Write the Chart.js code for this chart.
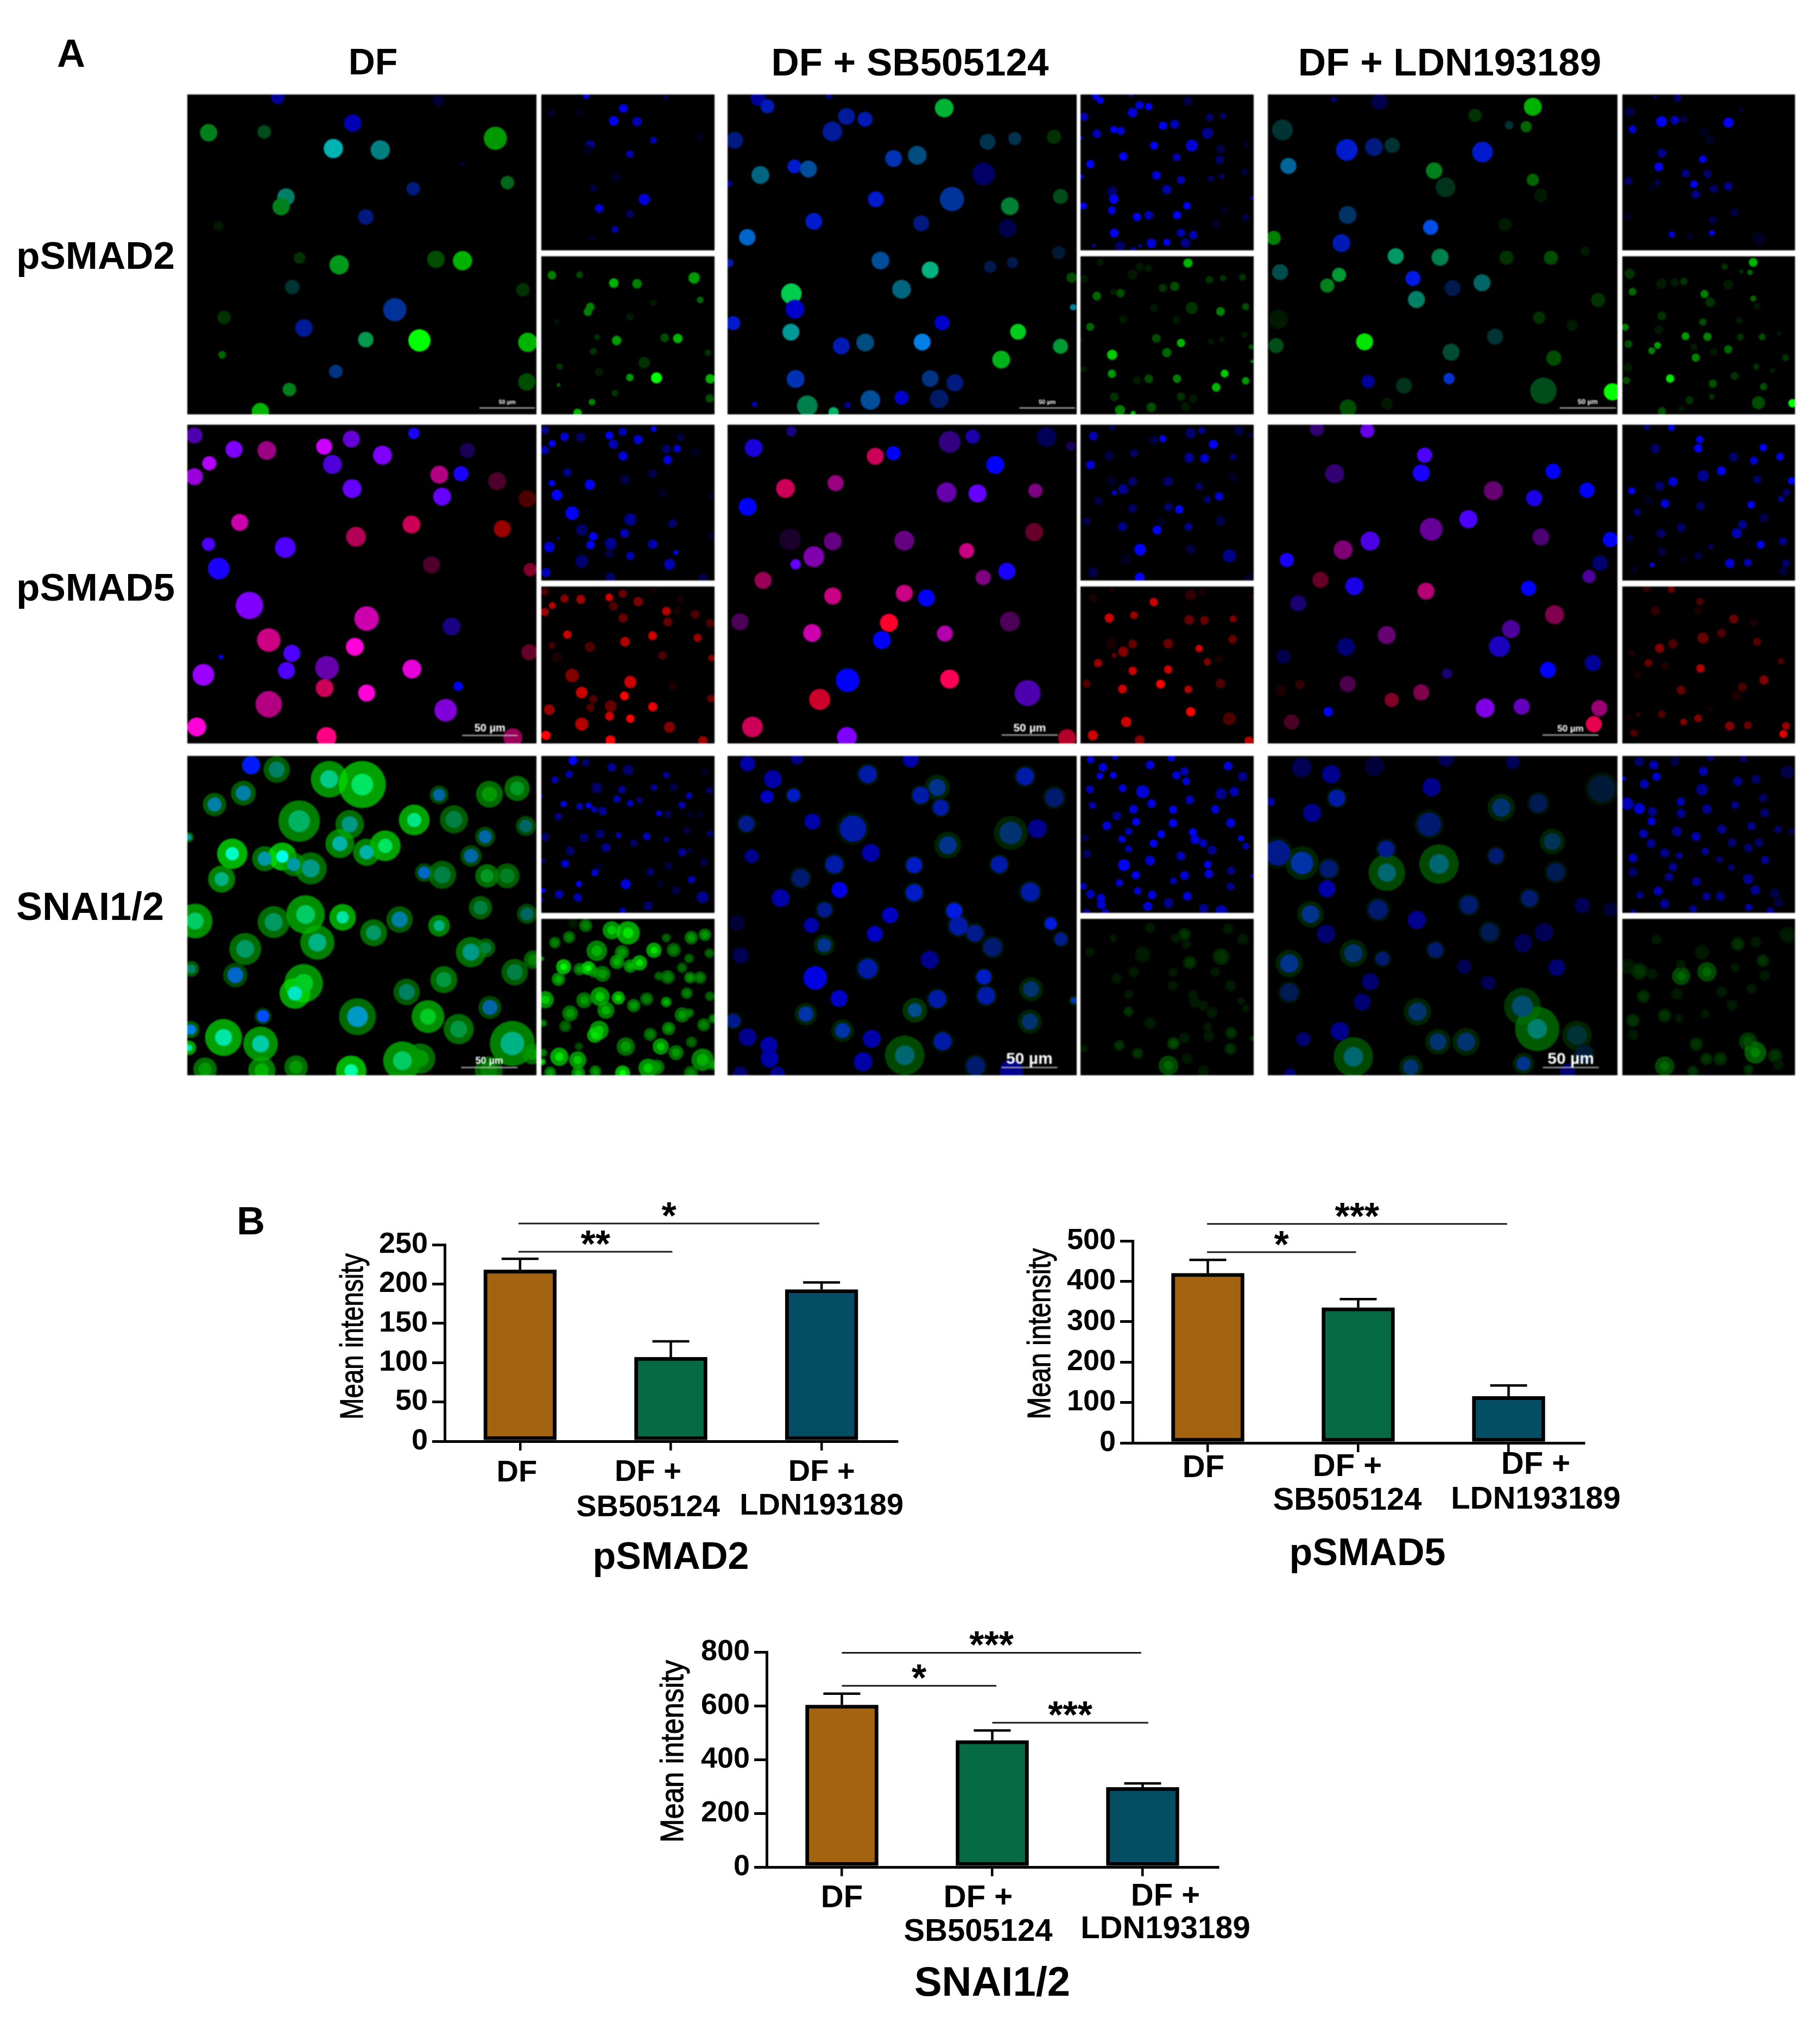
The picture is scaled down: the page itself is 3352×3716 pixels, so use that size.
<!DOCTYPE html>
<html>
<head>
<meta charset="utf-8">
<title>pSMAD2, pSMAD5, SNAI1/2</title>
<script src="https://cdn.jsdelivr.net/npm/chart.js@4"></script>
<style>
  html, body { margin: 0; background: #fff; }
  #page { position: relative; width: 3352px; height: 3716px; overflow: hidden; font-family: "Liberation Sans", Arial, sans-serif; }
  #page canvas { position: absolute; }
  .cells { background: #000; filter: blur(1.2px); }
  .label { position: absolute; font-weight: bold; color: #000; white-space: nowrap; transform: translate(-50%, -50%); line-height: 1; }
</style>
</head>
<body>
<div id="page"></div>
<script>
// ---- panel B values ----
const treatments = ["DF", "DF + SB505124", "DF + LDN193189"];
const treatmentLines = [["DF"], ["DF +", "SB505124"], ["DF +", "LDN193189"]];
const barColors = ["#A4630F", "#066B44", "#044E64"];

const smad2Means = [218, 107, 193];
const smad2Errors = [14, 20, 9];
const smad2Ticks = [0, 50, 100, 150, 200, 250];
const smad2Brackets = [[-0.01, 1.985, 277, "*"], [-0.01, 1.01, 241, "**"]];

const smad5Means = [420, 335, 115];
const smad5Errors = [33, 21, 27];
const smad5Ticks = [0, 100, 200, 300, 400, 500];
const smad5Brackets = [[-0.005, 1.99, 542, "***"], [-0.005, 0.985, 472, "*"]];

const snaiMeans = [603, 471, 297];
const snaiErrors = [42, 37, 14];
const snaiTicks = [0, 200, 400, 600, 800];
const snaiBrackets = [[0, 1.99, 797, "***"], [0, 1.027, 674, "*"], [1, 2.037, 537, "***"]];

const dfSmad2 = [[573,350,14,6,0],[905,362,12,2,0],[430,478,18,1,5],[545,475,14,1,3],[728,443,18,7,0],[688,535,20,7,7],[785,540,20,5,5],[1023,498,24,0,6],[955,590,5,2,0],[1048,658,14,1,4],[853,680,14,5,1],[590,710,18,4,5],[580,745,18,1,5],[755,782,16,5,1],[450,815,10,0,1],[618,930,12,0,2],[700,955,20,1,6],[900,935,18,0,3],[955,940,20,0,7],[603,1035,15,2,2],[1080,1045,14,0,2],[815,1117,24,6,2],[462,1145,14,0,2],[627,1183,18,6,1],[755,1225,16,3,6],[866,1228,23,0,10],[1090,1235,20,0,7],[458,1280,8,0,4],[693,1340,14,5,2],[1088,1378,18,0,3],[597,1405,14,1,5],[537,1485,18,0,7]];
const sbSmad2 = [[148,52,32,6,0],[188,90,30,7,1],[450,40,15,5,0],[525,137,36,6,1],[604,150,32,7,1],[465,207,42,6,1],[942,98,40,2,7],[48,248,36,5,1],[1127,255,34,3,2],[1243,240,28,3,2],[1410,232,30,0,2],[726,333,36,7,2],[827,318,40,5,3],[303,370,30,8,1],[363,382,36,6,3],[158,410,38,5,4],[1110,405,48,4,0],[22,450,14,7,0],[650,523,34,8,1],[975,522,52,6,2],[1222,555,38,2,5],[1438,510,32,1,3],[386,626,36,8,1],[844,635,34,5,1],[1212,658,38,3,0],[102,700,35,8,4],[670,808,38,6,3],[1430,772,28,2,1],[1138,838,26,3,1],[1233,818,24,3,1],[882,852,36,5,7],[25,820,18,7,1],[1485,888,22,0,3],[760,942,40,5,4],[290,963,44,3,8],[305,1035,40,8,0],[1492,1026,14,6,5],[42,1100,30,8,1],[933,1098,32,8,0],[288,1142,36,6,6],[1257,1140,34,1,8],[503,1206,36,7,1],[605,1190,38,5,3],[848,1188,36,9,5],[1438,1208,32,2,6],[1185,1270,38,1,7],[308,1360,38,7,2],[882,1358,36,5,2],[987,1378,36,5,1],[627,1458,42,6,3],[760,1447,30,8,0],[920,1453,40,4,1],[358,1485,44,3,5],[132,1478,12,7,0],[470,1515,22,4,7],[530,1482,14,6,0]];
const ldnSmad2 = [[290,58,12,5,0],[483,68,34,3,0],[1133,92,38,0,7],[888,132,28,0,2],[1033,178,18,2,2],[1105,185,24,0,4],[72,200,44,2,2],[345,293,46,8,1],[460,280,38,5,1],[537,272,32,2,2],[920,303,44,8,1],[97,368,34,6,4],[715,390,35,1,5],[763,467,42,1,2],[1133,432,26,0,4],[1167,505,28,0,1],[348,596,38,4,2],[1015,640,28,0,1],[700,654,32,9,3],[35,703,30,0,5],[322,727,38,7,1],[552,788,34,4,6],[740,793,36,3,5],[1022,795,30,0,2],[1210,795,30,0,3],[1355,765,20,0,1],[62,862,34,3,3],[312,875,30,2,6],[262,925,30,1,5],[625,892,32,9,1],[918,912,36,4,4],[793,937,34,3,1],[640,990,36,4,5],[1410,992,30,0,2],[1160,1075,26,0,2],[55,1082,40,0,1],[1300,1110,24,0,1],[420,1187,36,0,9],[973,1163,34,2,2],[45,1205,32,1,3],[787,1235,36,2,3],[1222,1263,32,0,3],[435,1372,28,6,0],[587,1392,34,1,2],[778,1358,24,8,2],[1178,1415,56,1,3],[1470,1420,36,0,10],[350,1495,36,0,3],[515,1475,25,0,1]];

const dfSmad5 = [[65,80,34,4,3],[233,145,36,6,5],[372,150,40,3,6],[128,210,30,8,7],[65,272,36,5,6],[615,132,34,8,8],[730,97,36,5,4],[995,70,24,8,1],[862,172,40,6,5],[1222,150,32,2,1],[650,215,40,5,3],[1103,263,38,3,7],[1195,258,32,6,1],[1348,293,38,1,3],[733,328,40,6,4],[1115,365,38,6,4],[1475,375,36,0,3],[257,485,36,4,8],[750,552,42,2,7],[985,495,38,2,8],[1370,515,36,0,6],[125,587,28,7,3],[450,602,44,7,3],[168,700,46,8,1],[1070,683,36,1,3],[1488,705,28,1,5],[298,872,58,7,5],[795,933,52,4,8],[1155,970,38,3,1],[380,1033,50,3,8],[745,1065,38,5,10],[478,1095,36,7,3],[1485,1090,34,1,4],[627,1162,50,4,4],[455,1175,36,8,3],[987,1168,40,5,9],[103,1195,46,6,6],[617,1257,38,2,8],[795,1280,36,5,10],[380,1332,56,3,7],[1130,1360,48,5,5],[75,1438,40,5,10],[625,1485,42,3,10],[1415,1488,40,2,6],[178,1112,10,8,0],[1183,1248,20,8,0]];
const sbSmad5 = [[295,60,22,3,1],[135,138,38,5,1],[650,177,36,2,8],[727,163,30,7,0],[965,110,46,3,2],[1062,85,30,4,1],[1375,87,42,2,0],[1478,130,20,2,1],[1158,217,38,7,0],[270,327,40,2,8],[482,302,34,3,6],[110,412,38,6,0],[952,345,42,4,4],[1083,350,38,6,4],[1328,337,30,3,5],[1323,530,38,1,4],[290,565,46,1,1],[470,573,38,3,4],[773,570,42,3,4],[1037,617,32,3,8],[390,645,44,4,5],[313,680,22,6,4],[175,755,36,2,6],[1107,742,32,3,5],[1207,713,36,6,1],[470,828,36,3,8],[773,815,36,3,8],[867,837,36,8,0],[77,948,36,2,3],[708,953,38,1,10],[1220,947,42,2,3],[383,1000,38,4,8],[945,1003,34,4,7],[678,1033,38,8,0],[533,1220,50,9,0],[965,1215,40,2,10],[415,1310,45,1,8],[1295,1280,55,4,3],[130,1438,44,2,8],[530,1485,42,7,5],[1462,1490,38,1,7]];
const ldnSmad5 = [[222,50,30,3,2],[435,58,30,6,4],[677,172,32,7,3],[297,258,40,3,2],[663,255,36,9,1],[1220,247,32,8,0],[967,337,40,3,4],[1363,335,32,8,0],[1140,372,34,6,1],[862,470,38,7,3],[705,517,48,4,4],[1168,553,36,3,3],[447,572,40,6,3],[333,613,40,3,5],[1462,565,32,8,0],[95,660,30,7,1],[1418,675,32,3,0],[1372,737,28,4,3],[237,753,34,1,4],[380,782,38,6,1],[683,805,36,3,7],[1116,792,32,9,0],[143,862,34,3,1],[1226,915,40,2,5],[1042,982,38,4,3],[517,1010,38,3,4],[345,1065,38,3,0],[993,1063,44,5,1],[80,1110,30,2,0],[1198,1172,34,7,0],[1388,1140,34,4,0],[772,1190,22,3,1],[352,1238,34,2,3],[150,1240,20,0,2],[70,1268,24,0,1],[538,1312,30,1,5],[663,1277,34,2,5],[933,1350,40,6,5],[1087,1343,34,5,4],[1415,1350,34,3,6],[270,1367,20,7,0],[115,1415,32,1,3],[1392,1425,34,2,9]];

const dfSnai = [[305,75,38,9,1],[413,95,34,3,5],[635,140,38,4,8],[775,165,46,3,9],[150,258,30,5,5],[272,205,32,5,5],[1100,213,26,5,4],[1313,210,32,0,6],[1430,183,30,1,6],[508,335,46,3,7],[995,330,30,4,9],[1163,327,36,2,5],[722,350,34,4,6],[1467,358,28,3,4],[680,440,32,5,7],[872,450,30,3,9],[1295,408,28,5,4],[40,410,12,5,6],[793,480,30,5,7],[1235,497,30,5,4],[225,487,28,6,10],[362,510,30,5,6],[437,500,26,7,10],[485,537,28,5,6],[557,555,38,4,6],[180,605,30,4,7],[1037,575,26,6,4],[1113,585,36,2,5],[1303,590,28,1,6],[1388,590,32,1,5],[1275,738,30,2,5],[1472,767,28,3,4],[535,770,40,3,8],[692,783,26,5,9],[68,800,36,3,8],[400,805,38,3,6],[933,793,34,5,5],[1100,822,24,4,7],[823,855,32,3,6],[585,900,38,4,7],[280,930,38,3,6],[1235,945,36,4,6],[1298,925,24,2,5],[52,1023,20,3,5],[238,1052,34,6,4],[1420,1038,34,2,5],[1120,1073,32,2,6],[527,1090,40,1,8],[490,1137,30,6,9],[963,1130,34,3,5],[1315,1202,32,5,4],[355,1243,26,9,3],[755,1245,44,6,6],[1053,1245,34,1,8],[1183,1303,36,2,6],[188,1342,36,5,9],[345,1372,36,5,8],[1410,1370,50,4,7],[50,1305,22,7,5],[42,1390,14,5,9],[945,1450,40,3,8],[728,1497,28,5,10],[350,1495,30,0,7],[495,1480,28,0,6],[110,1490,28,0,6],[1310,1495,36,0,5],[1495,1420,24,0,6],[1020,1440,36,0,6],[1498,980,24,0,5]];
const sbSnai = [[110,68,32,6,0],[320,42,26,5,0],[802,48,34,6,0],[620,117,38,6,1],[217,140,38,6,0],[1288,127,38,6,1],[192,222,28,7,0],[305,215,28,7,1],[915,178,36,5,2],[845,215,36,6,1],[1412,225,40,4,1],[930,272,34,6,1],[385,337,34,6,0],[105,348,34,5,1],[557,370,56,6,1],[1340,370,40,5,0],[1227,390,48,4,2],[960,447,38,5,2],[127,498,30,5,0],[633,483,38,6,0],[478,537,38,6,1],[817,540,34,7,1],[1178,537,36,6,1],[335,600,38,4,1],[500,655,34,8,0],[817,668,36,7,1],[1310,665,40,6,1],[250,693,38,6,0],[437,748,32,5,1],[987,753,34,8,1],[715,773,34,7,0],[65,808,32,2,0],[380,820,32,6,0],[1397,812,26,8,1],[1005,823,40,6,1],[650,860,34,7,0],[1075,857,36,5,1],[1440,885,28,5,1],[435,912,30,5,2],[1150,922,40,4,1],[80,960,34,3,0],[883,980,38,5,0],[620,1022,42,6,1],[397,1065,50,8,0],[1113,1060,32,7,1],[1313,1117,34,4,2],[1123,1148,38,6,1],[498,1160,36,7,0],[915,1163,38,6,1],[820,1215,30,5,3],[357,1233,32,6,2],[50,1265,30,5,1],[1308,1268,34,4,2],[513,1310,32,6,2],[110,1340,38,5,0],[637,1348,38,6,0],[938,1360,38,6,1],[200,1378,36,6,0],[203,1440,38,6,0],[777,1425,42,4,4],[600,1455,40,6,0],[1078,1475,40,4,1],[1230,1500,50,5,0],[1495,1170,14,6,2],[78,1510,30,4,0],[237,1510,30,5,0]];
const ldnSnai = [[103,85,28,3,0],[187,117,26,5,0],[310,80,28,2,0],[513,45,22,3,0],[703,60,20,3,0],[472,177,26,5,0],[203,228,24,6,1],[15,245,12,6,0],[133,297,26,5,0],[670,272,26,4,2],[775,252,26,3,1],[955,185,38,2,1],[465,350,34,4,1],[815,430,24,3,2],[35,483,36,5,1],[104,530,32,6,2],[343,465,24,5,1],[655,497,22,4,1],[180,557,26,4,1],[493,535,28,4,4],[345,575,26,4,4],[825,572,26,3,1],[175,650,24,6,0],[750,695,24,4,1],[578,725,26,4,1],[320,747,28,4,1],[900,727,22,3,0],[128,768,25,5,2],[980,745,20,2,0],[430,795,26,5,0],[172,860,26,4,0],[637,852,26,3,1],[792,852,26,3,0],[732,903,26,3,0],[483,935,22,4,1],[250,950,26,4,2],[333,975,20,4,1],[68,998,26,5,2],[565,1012,20,3,0],[828,1017,24,4,0],[298,1082,24,4,0],[633,1087,20,3,0],[68,1132,26,3,1],[275,1177,24,4,0],[730,1197,30,4,3],[432,1222,26,4,2],[772,1302,28,4,5],[212,1312,26,5,0],[885,1332,28,2,2],[108,1350,20,4,0],[490,1362,24,4,2],[570,1362,26,4,2],[250,1432,28,4,4],[905,1420,26,2,1],[733,1463,20,5,2],[413,1480,22,4,2],[858,1500,22,4,0],[70,1510,16,4,0]];

const page = document.getElementById("page");

function addLabel(text, x, y, size) {
  let el = document.createElement("div");
  el.className = "label";
  el.textContent = text;
  el.style.left = x + "px";
  el.style.top = y + "px";
  el.style.fontSize = size + "px";
  page.appendChild(el);
}

function addCanvas(left, top, width, height, cls) {
  let canvas = document.createElement("canvas");
  canvas.width = width;
  canvas.height = height;
  canvas.style.left = left + "px";
  canvas.style.top = top + "px";
  canvas.style.width = width + "px";
  canvas.style.height = height + "px";
  if (cls) canvas.className = cls;
  page.appendChild(canvas);
  return canvas;
}

// ---- micrographs ----
const stainRed = n => [n[4] * 25.5, 0, 0];
const stainGreen = n => [0, n[4] * 25.5, 0];

function mix(a, b) {
  return "rgb(" + Math.min(255, a[0] + b[0]) + "," + Math.min(255, a[1] + b[1]) + "," + Math.min(255, a[2] + b[2]) + ")";
}

const scaleBarPlugin = {
  id: "scaleBar",
  afterDraw(chart, args, opts) {
    if (!opts.x0) return;
    let ctx = chart.ctx;
    let x0 = chart.scales.x.getPixelForValue(opts.x0);
    let x1 = chart.scales.x.getPixelForValue(opts.x1);
    let y = chart.scales.y.getPixelForValue(opts.y);
    ctx.save();
    ctx.strokeStyle = "#c8c8c8";
    ctx.lineWidth = 2;
    ctx.beginPath();
    ctx.moveTo(x0, y);
    ctx.lineTo(x1, y);
    ctx.stroke();
    ctx.fillStyle = "#fff";
    ctx.font = "bold " + opts.size + "px 'Liberation Sans'";
    ctx.textAlign = "center";
    ctx.textBaseline = "alphabetic";
    ctx.fillText("50 µm", (x0 + x1) / 2, y - 7);
    ctx.restore();
  }
};

function drawCells(box, view, nuclei, channel, bar) {
  let canvas = addCanvas(box.l, box.t, box.r - box.l, box.b - box.t, "cells");
  let k = (box.r - box.l) / (view[1] - view[0]);
  let visible = nuclei.filter(n => channel.blue * n[3] + channel.on * n[4] > 0);
  let points = visible.map(n => ({ x: n[0], y: n[1] }));
  let colors = visible.map(n => mix([0, 0, channel.blue * n[3] * 25.5 * channel.boost], channel.on ? channel.stain(n) : [0, 0, 0]));
  // the first dataset is painted on top, so nuclei go before the cell bodies
  let datasets = [{
    data: points,
    pointRadius: visible.map(n => n[2] * k),
    backgroundColor: colors,
    pointBorderWidth: 0
  }];
  if (channel.halo && channel.on) {
    datasets.push({
      data: points,
      pointRadius: visible.map(n => n[2] * k * (1 + channel.halo * n[4])),
      backgroundColor: visible.map(n => "rgba(" + channel.stain(n).join(",") + ",0.7)"),
      pointBorderWidth: 0
    });
  }
  new Chart(canvas, {
    type: "scatter",
    data: { datasets: datasets },
    options: {
      responsive: false,
      animation: false,
      events: [],
      layout: { autoPadding: false },
      plugins: { legend: { display: false }, tooltip: { enabled: false }, scaleBar: bar || {} },
      scales: {
        x: { display: false, min: view[0], max: view[1] },
        y: { display: false, min: view[2], max: view[3], reverse: true }
      }
    },
    plugins: [scaleBarPlugin]
  });
}

const panelRows = [
  { t: 174, m0: 461, m1: 472, b: 763 },
  { t: 782, m0: 1069, m1: 1080, b: 1369 },
  { t: 1392, m0: 1681, m1: 1692, b: 1980 }
];
const panelCols = [
  { l: 345, r: 988, il: 997, ir: 1316 },
  { l: 1340, r: 1983, il: 1990, ir: 2309 },
  { l: 2335, r: 2979, il: 2988, ir: 3306 }
];

const micrographs = [
  [
    { data: dfSmad2, view: [386, 1108, 340, 1495], stain: stainGreen, boost: 1, bar: { x0: 990, x1: 1105, y: 1472, size: 11 } },
    { data: sbSmad2, view: [18, 1507, 35, 1525], stain: stainGreen, boost: 1, bar: { x0: 1262, x1: 1500, y: 1495, size: 11 } },
    { data: ldnSmad2, view: [10, 1492, 35, 1525], stain: stainGreen, boost: 1, bar: { x0: 1247, x1: 1485, y: 1495, size: 13 } }
  ],
  [
    { data: dfSmad5, view: [35, 1515, 30, 1515], stain: stainRed, boost: 1.7, bar: { x0: 1200, x1: 1435, y: 1478, size: 20 } },
    { data: sbSmad5, view: [25, 1503, 30, 1515], stain: stainRed, boost: 1.7, bar: { x0: 1185, x1: 1423, y: 1476, size: 21 } },
    { data: ldnSmad5, view: [15, 1492, 30, 1515], stain: stainRed, boost: 1.5, bar: { x0: 1175, x1: 1412, y: 1476, size: 17 } }
  ],
  [
    { data: dfSnai, view: [35, 1512, 32, 1518], stain: stainGreen, boost: 1.3, halo: 0.13, bar: { x0: 1193, x1: 1432, y: 1482, size: 18 } },
    { data: sbSnai, view: [25, 1507, 32, 1518], stain: stainGreen, boost: 1.1, halo: 0.25, bar: { x0: 1187, x1: 1425, y: 1482, size: 30 } },
    { data: ldnSnai, view: [7, 1000, 32, 1518], stain: stainGreen, boost: 1.1, halo: 0.25, bar: { x0: 788, x1: 947, y: 1482, size: 30 } }
  ]
];

micrographs.forEach((row, r) => {
  row.forEach((p, c) => {
    let R = panelRows[r], C = panelCols[c];
    drawCells({ l: C.l, r: C.r, t: R.t, b: R.b }, p.view, p.data, { blue: 1, boost: p.boost, on: 1, stain: p.stain, halo: p.halo }, p.bar);
    drawCells({ l: C.il, r: C.ir, t: R.t, b: R.m0 }, p.view, p.data, { blue: 1, boost: 1.4, on: 0, stain: p.stain });
    drawCells({ l: C.il, r: C.ir, t: R.m1, b: R.b }, p.view, p.data, { blue: 0, boost: 1, on: 1, stain: p.stain, halo: p.halo });
  });
});

addLabel("A", 131, 98, 72);
addLabel("DF", 687, 113, 68);
addLabel("DF + SB505124", 1676, 114, 71);
addLabel("DF + LDN193189", 2670, 114, 71);
addLabel("pSMAD2", 176, 470, 71);
addLabel("pSMAD5", 176, 1081, 71);
addLabel("SNAI1/2", 166, 1669, 72);
addLabel("B", 462, 2248, 72);

// ---- bar charts ----
const annotatePlugin = {
  id: "annotate",
  afterDatasetsDraw(chart, args, opts) {
    let ctx = chart.ctx, x = chart.scales.x, y = chart.scales.y;
    ctx.save();
    ctx.strokeStyle = "#000";
    ctx.lineWidth = 4.5;

    // error bars, upper arm only
    opts.means.forEach((m, i) => {
      let px = x.getPixelForValue(i);
      let top = y.getPixelForValue(m + opts.errors[i]);
      ctx.beginPath();
      ctx.moveTo(px, y.getPixelForValue(m));
      ctx.lineTo(px, top);
      ctx.moveTo(px - 34, top);
      ctx.lineTo(px + 34, top);
      ctx.stroke();
    });

    // significance brackets
    ctx.fillStyle = "#000";
    ctx.textAlign = "center";
    ctx.textBaseline = "alphabetic";
    opts.brackets.forEach(b => {
      let x0 = x.getPixelForValue(b[0]);
      let x1 = x.getPixelForValue(b[1]);
      let py = y.getPixelForValue(b[2]);
      ctx.lineWidth = 3;
      ctx.strokeStyle = "#1a1a1a";
      ctx.beginPath();
      ctx.moveTo(x0, py);
      ctx.lineTo(x1, py);
      ctx.stroke();
      ctx.font = "bold 70px 'Liberation Sans'";
      ctx.fillText(b[3], (x0 + x1) / 2, py - 30 + 40);
    });

    // category labels sit off their ticks in the figure
    ctx.font = "bold " + opts.labelSize + "px 'Liberation Sans'";
    ctx.textBaseline = "middle";
    treatmentLines.forEach((lines, i) => {
      let px = x.getPixelForValue(i) + opts.labelDx[i];
      lines.forEach((line, j) => ctx.fillText(line, px, y.bottom + opts.labelDy[i][j]));
    });

    // chart title
    ctx.font = "bold " + opts.titleSize + "px 'Liberation Sans'";
    ctx.fillText(opts.title, (x.left + x.right) / 2 + opts.titleDx, y.bottom + opts.titleDy);

    // y axis title is squeezed along its length in the figure
    ctx.font = "60px 'Liberation Sans'";
    ctx.textBaseline = "alphabetic";
    let w = ctx.measureText(opts.yTitle).width;
    ctx.translate(opts.yTitleX - parseFloat(chart.canvas.style.left), opts.yTitleY - parseFloat(chart.canvas.style.top));
    ctx.rotate(-Math.PI / 2);
    ctx.scale(opts.yTitleLen / w, 1);
    ctx.lineWidth = 1.2;
    ctx.strokeStyle = "#000";
    ctx.strokeText(opts.yTitle, 0, 0);
    ctx.fillText(opts.yTitle, 0, 0);
    ctx.restore();
  }
};

function drawBars(id) {
  let left = id.left - 260, top = id.top - 160, right = id.right + 120, bottom = id.zero + 300;
  let canvas = addCanvas(left, top, right - left, bottom - top);
  let maxTick = id.ticks[id.ticks.length - 1];
  new Chart(canvas, {
    type: "bar",
    data: {
      labels: treatments,
      datasets: [{
        data: id.means,
        backgroundColor: barColors,
        borderColor: "#000",
        borderWidth: 7,
        borderSkipped: false,
        barThickness: 134
      }]
    },
    options: {
      responsive: false,
      animation: false,
      events: [],
      layout: { padding: { top: id.top - top, right: right - id.right, left: 0, bottom: 0 } },
      plugins: {
        legend: { display: false },
        tooltip: { enabled: false },
        annotate: {
          means: id.means, errors: id.errors, brackets: id.brackets, title: id.title,
          labelSize: id.labelSize, labelDx: id.labelDx, labelDy: id.labelDy,
          titleSize: id.titleSize, titleDx: id.titleDx, titleDy: id.titleDy,
          yTitle: "Mean intensity", yTitleX: id.yTitleX, yTitleY: id.yTitleY, yTitleLen: id.yTitleLen
        }
      },
      scales: {
        x: {
          afterFit: s => { s.height = bottom - id.zero; },
          grid: { offset: false, drawOnChartArea: false, color: "#000", lineWidth: 4.5, tickLength: 17 },
          border: { color: "#000", width: 5 },
          ticks: { display: false }
        },
        y: {
          min: 0,
          max: maxTick,
          afterFit: s => { s.width = id.left - left; },
          afterBuildTicks: s => { s.ticks = id.ticks.map(v => ({ value: v })); },
          grid: { drawOnChartArea: false, color: "#000", lineWidth: 5, tickLength: 23 },
          border: { color: "#000", width: 5 },
          ticks: { color: "#000", padding: 8, font: { family: "'Liberation Sans'", weight: "bold", size: 54 } }
        }
      }
    },
    plugins: [annotatePlugin]
  });
}

drawBars({
  title: "pSMAD2", means: smad2Means, errors: smad2Errors, ticks: smad2Ticks, brackets: smad2Brackets,
  left: 819, top: 2292, right: 1652, zero: 2654,
  labelSize: 56, labelDx: [-6, -42, 0], labelDy: [[59], [58, 123], [58, 120]],
  titleSize: 70, titleDx: 0, titleDy: 216,
  yTitleX: 668, yTitleY: 2461, yTitleLen: 306
});
drawBars({
  title: "pSMAD5", means: smad5Means, errors: smad5Errors, ticks: smad5Ticks, brackets: smad5Brackets,
  left: 2086, top: 2285, right: 2917, zero: 2657,
  labelSize: 58, labelDx: [-8, -20, 50], labelDy: [[47], [45, 107], [41, 105]],
  titleSize: 70, titleDx: 17, titleDy: 206,
  yTitleX: 1934, yTitleY: 2456, yTitleLen: 315
});
drawBars({
  title: "SNAI1/2", means: snaiMeans, errors: snaiErrors, ticks: snaiTicks, brackets: snaiBrackets,
  left: 1412, top: 3042, right: 2243, zero: 3438,
  labelSize: 58, labelDx: [0, -26, 42], labelDy: [[58], [58, 120], [55, 115]],
  titleSize: 76, titleDx: 0, titleDy: 216,
  yTitleX: 1258, yTitleY: 3225, yTitleLen: 336
});
</script>
</body>
</html>
